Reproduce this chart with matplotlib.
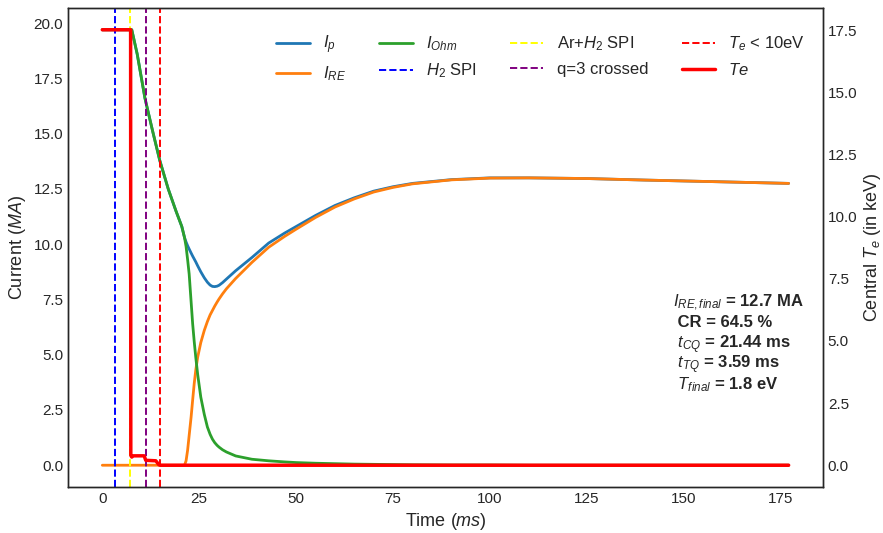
import matplotlib
matplotlib.use("Agg")
import matplotlib.pyplot as plt

plt.style.use("seaborn-v0_8-white")
plt.rcParams["font.family"] = ["Liberation Sans", "DejaVu Sans"]
plt.rcParams["mathtext.fontset"] = "custom"
plt.rcParams["mathtext.rm"] = "Liberation Sans"
plt.rcParams["mathtext.it"] = "Liberation Sans:italic"
plt.rcParams["mathtext.bf"] = "Liberation Sans:bold"
plt.rcParams["axes.linewidth"] = 1.0

# currents (MA) vs time (ms)
time = [0, 7.6, 9, 11, 13, 14.8, 17, 19, 20.5, 21.2, 21.6, 22, 22.4, 22.9, 23.3,
        23.7, 24.1, 24.6, 25.4, 26.3, 27.1, 27.8, 28.4, 29.0, 29.6, 30.1, 31, 32,
        34.4, 38.6, 42.9, 47, 50, 55, 60, 65, 70, 75, 80, 90, 100, 110, 125, 140,
        160, 177]
i_p = [19.7, 19.7, 18.6, 16.6, 15.1, 13.8, 12.5, 11.5, 10.8, 10.3, 10.1, 9.93,
       9.78, 9.6, 9.46, 9.33, 9.2, 9.02, 8.75, 8.48, 8.28, 8.15, 8.09, 8.08, 8.1,
       8.14, 8.26, 8.42, 8.8, 9.4, 10.05, 10.5, 10.8, 11.3, 11.75, 12.1, 12.4,
       12.6, 12.75, 12.92, 13.0, 13.0, 12.97, 12.9, 12.82, 12.75]
i_re = [0, 0, 0, 0, 0, 0, 0, 0, 0, 0, 0.2, 0.68, 1.35, 2.18, 2.95, 3.69, 4.3, 4.89,
        5.55, 6.1, 6.5, 6.8, 7.0, 7.2, 7.38, 7.52, 7.75, 7.98, 8.45, 9.18, 9.86,
        10.35, 10.68, 11.21, 11.68, 12.05, 12.36, 12.57, 12.73, 12.91, 12.99, 13.0,
        12.97, 12.9, 12.82, 12.75]
i_ohm = [19.7, 19.7, 18.6, 16.6, 15.1, 13.8, 12.5, 11.5, 10.8, 10.3, 9.9, 9.3, 8.65,
         7.4, 6.4, 5.6, 4.89, 4.1, 3.08, 2.3, 1.73, 1.4, 1.18, 1.02, 0.9, 0.82, 0.7,
         0.6, 0.42, 0.27, 0.2, 0.15, 0.12, 0.09, 0.07, 0.05, 0.04, 0.03, 0.02, 0.01,
         0.01, 0, 0, 0, 0, 0]

# central Te (keV)
time_te = [0, 7.3, 7.35, 7.6, 8.0, 10.8, 11.2, 13.8, 14.6, 15.0, 177]
te = [17.52, 17.52, 0.40, 0.33, 0.38, 0.38, 0.2, 0.18, 0.02, 0.0018, 0.0018]

# event times (ms)
t_h2_spi = 3.15
t_ar_spi = 7.2
t_q3 = 11.2
t_te10 = 14.8

summary = ["$I_{RE, final}$ = 12.7 MA", " CR = 64.5 %", " $t_{CQ}$ = 21.44 ms",
           " $t_{TQ}$ = 3.59 ms", " $T_{final}$ = 1.8 eV"]

fig = plt.figure(figsize=(8.83, 5.33), dpi=100)
ax = fig.add_axes([0.077, 0.0863, 0.855, 0.8987])
ax2 = ax.twinx()

ax.plot(time, i_p, color="tab:blue", lw=2, label="$I_p$")
ax.plot(time, i_re, color="tab:orange", lw=2, label="$I_{RE}$")
ax.plot(time, i_ohm, color="tab:green", lw=2, label="$I_{Ohm}$")
ax.axvline(t_h2_spi, color="blue", ls="--", lw=1.4, label="$H_2$ SPI")
ax.axvline(t_ar_spi, color="yellow", ls="--", lw=1.4, label="Ar+$H_2$ SPI")
ax.axvline(t_q3, color="purple", ls="--", lw=1.4, label="q=3 crossed")
ax.axvline(t_te10, color="red", ls="--", lw=1.4, label="$T_e$ < 10eV")
ax2.plot(time_te, te, color="red", lw=2.5, label="$Te$")

ax.set_xlabel("Time ($ms$)", fontsize=13)
ax.set_ylabel("Current ($MA$)", fontsize=13)
ax2.set_ylabel("Central $T_e$ (in keV)", fontsize=13, labelpad=3)
ax.tick_params(labelsize=11)
ax2.tick_params(labelsize=11)

h1, l1 = ax.get_legend_handles_labels()
h2, l2 = ax2.get_legend_handles_labels()
ax2.legend(h1 + h2, l1 + l2, ncol=4, fontsize=12, loc="upper right",
           bbox_to_anchor=(0.985, 0.96), borderaxespad=0, frameon=False)

# result summary, one line at a time so the spacing stays even
for k, line in enumerate(summary):
    ax2.text(0.801, 0.377 - 0.0434 * k, line, transform=ax2.transAxes,
             fontsize=12, fontweight="bold", va="baseline", ha="left")

fig.savefig("out.png")
